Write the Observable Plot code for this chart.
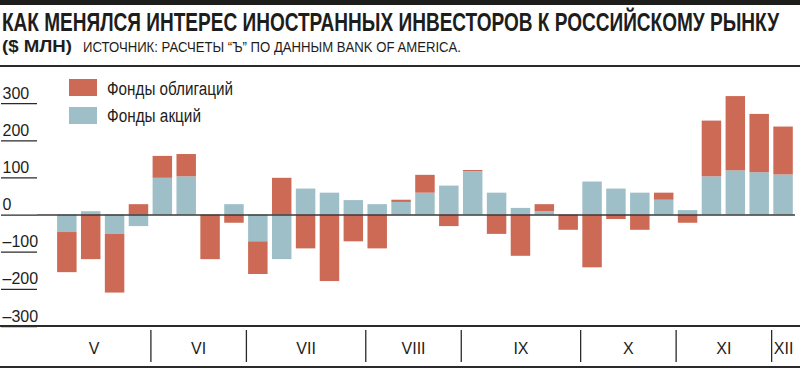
<!DOCTYPE html>
<html><head><meta charset="utf-8">
<script src="https://cdn.jsdelivr.net/npm/d3@7"></script>
<script src="https://cdn.jsdelivr.net/npm/@observablehq/plot@0.6"></script>
<style>
body{margin:0;background:#fff;}
#wrap{position:relative;width:800px;height:369px;overflow:hidden;font-family:"Liberation Sans Narrow","Liberation Sans",Arial,sans-serif;color:#1d1d1b;}
.abs{position:absolute;white-space:nowrap;}
.fit{transform-origin:0 0;display:inline-block;}
.hline{position:absolute;left:0;width:800px;background:#2a2a2a;}
.sw{position:absolute;width:28px;height:17px;}
#main,#band{position:absolute;left:0;}
#main{top:60px;}
#band{top:326px;}
</style></head><body>
<div id="wrap">
  <div class="hline" style="top:0;height:5px;background:#1d1d1b"></div>
  <div id="title" class="abs fit" data-w="777" style="left:2px;top:9.8px;font-size:25px;line-height:25px;font-weight:bold;"></div>
  <div id="unit" class="abs fit" data-w="70" style="left:2px;top:37.6px;font-size:17px;line-height:17px;font-weight:bold;"></div>
  <div id="source" class="abs fit" data-w="378" style="left:83px;top:39.9px;font-size:14px;line-height:14px;"></div>
  <div class="hline" style="top:65.3px;height:1.4px"></div>
  <div id="main"></div>
  <div id="band"></div>
  <div class="hline" style="top:325.3px;height:1.4px"></div>
  <div class="hline" style="top:366.3px;height:1.8px"></div>
  <div id="legend"></div>
</div>
<script>
// ---- data ----
const titleText = "КАК МЕНЯЛСЯ ИНТЕРЕС ИНОСТРАННЫХ ИНВЕСТОРОВ К РОССИЙСКОМУ РЫНКУ";
const unitText = "($ МЛН)";
const sourceText = "ИСТОЧНИК: РАСЧЕТЫ “Ъ” ПО ДАННЫМ BANK OF AMERICA.";
const seriesNames = ["Фонды акций", "Фонды облигаций"];
const seriesColors = ["#9ebfc8", "#cd6a55"];
const legendOrder = ["Фонды облигаций", "Фонды акций"];
// weekly flows, $ mln
const equities = [-47, 9, -52, -31, 99, 103, 0, 28, -72, -120, 70, 59, 39, 28, 34, 59, 78, 117, 59, 18, 9, 0, 89, 70, 59, 40, 12, 103, 119, 114, 108];
const bonds    = [-108, -120, -158, 28, 59, 60, -120, -22, -88, 99, -91, -179, -72, -91, 6, 48, -31, 3, -52, -111, 19, -41, -142, -12, -41, 19, -22, 150, 200, 157, 129];
const monthNames = ["V", "VI", "VII", "VIII", "IX", "X", "XI", "XII"];
const monthStartWeek = [0, 4, 8, 13, 17, 22, 26, 30];
const yTicks = [-300, -200, -100, 0, 100, 200, 300];

// ---- derived tables ----
const nWeeks = equities.length;
const rows = [];
for (let i = 0; i < nWeeks; i++) {
  rows.push({week: i, type: seriesNames[0], value: equities[i]});
  rows.push({week: i, type: seriesNames[1], value: bonds[i]});
}
const xDomain = [-0.75, nWeeks];
const months = monthNames.map((name, i) => {
  const a = i === 0 ? xDomain[0] : monthStartWeek[i];
  const b = i < monthNames.length - 1 ? monthStartWeek[i + 1] : nWeeks;
  return {name, mid: (a + b) / 2};
});
const fontFam = '"Liberation Sans Narrow","Liberation Sans",Arial,sans-serif';
const fmt = d => d < 0 ? "–" + (-d) : String(d);

const main = Plot.plot({
  width: 800, height: 268,
  marginLeft: 37, marginRight: 5, marginTop: 6, marginBottom: 2,
  style: {fontFamily: fontFam, fontSize: "16px", color: "#1d1d1b", background: "transparent"},
  x: {domain: xDomain, axis: null},
  y: {domain: [-300, 400], axis: null},
  color: {domain: seriesNames, range: seriesColors},
  marks: [
    Plot.rectY(rows, {x: "week", interval: 1, y: "value", fill: "type", insetLeft: 2.2, insetRight: 2.2}),
    // short tick lines under the labels
    Plot.axisY({ticks: yTicks, tickSize: 36, tickFormat: () => "", label: null, stroke: "#2a2a2a", strokeWidth: 1.3}),
    // labels sitting above their tick lines
    Plot.axisY({ticks: yTicks, tickSize: 0, tickPadding: 35, textAnchor: "start", dy: -10, label: null,
      tickFormat: fmt, fontSize: 16, fill: "#1d1d1b"}),
    Plot.ruleY([0], {stroke: "#3a3a3a", strokeWidth: 1.6})
  ]
});
document.getElementById("main").appendChild(main);

const band = Plot.plot({
  width: 800, height: 41,
  marginLeft: 37, marginRight: 5, marginTop: 4, marginBottom: 5,
  style: {fontFamily: fontFam, fontSize: "16px", color: "#1d1d1b", background: "transparent"},
  x: {domain: xDomain, axis: null},
  marks: [
    Plot.ruleX(monthStartWeek.slice(1), {stroke: "#2a2a2a", strokeWidth: 1.3}),
    Plot.text(months, {x: "mid", text: "name", frameAnchor: "middle", dy: 2, fontSize: 16, fill: "#1d1d1b"})
  ]
});
document.getElementById("band").appendChild(band);

// titles & legend
document.getElementById("title").textContent = titleText;
document.getElementById("unit").textContent = unitText;
document.getElementById("source").textContent = sourceText;
const legend = document.getElementById("legend");
const legendWidths = [126, 94];
legendOrder.forEach((name, i) => {
  const sw = document.createElement("div");
  sw.className = "sw";
  sw.style.left = "69px";
  sw.style.top = (79 + i * 28) + "px";
  sw.style.background = seriesColors[seriesNames.indexOf(name)];
  legend.appendChild(sw);
  const t = document.createElement("div");
  t.className = "abs fit";
  t.dataset.w = legendWidths[i];
  t.style.cssText += `left:107px;top:${79.8 + i * 26.7}px;font-size:18px;line-height:18px;`;
  t.textContent = name;
  legend.appendChild(t);
});
function fitAll() {
  document.querySelectorAll(".fit").forEach(el => {
    el.style.transform = "none";
    const w = el.getBoundingClientRect().width;
    const target = +el.dataset.w;
    if (w > 0 && target) el.style.transform = `scaleX(${target / w})`;
  });
}
fitAll();
if (document.fonts && document.fonts.ready) document.fonts.ready.then(fitAll);
</script>
</body></html>
